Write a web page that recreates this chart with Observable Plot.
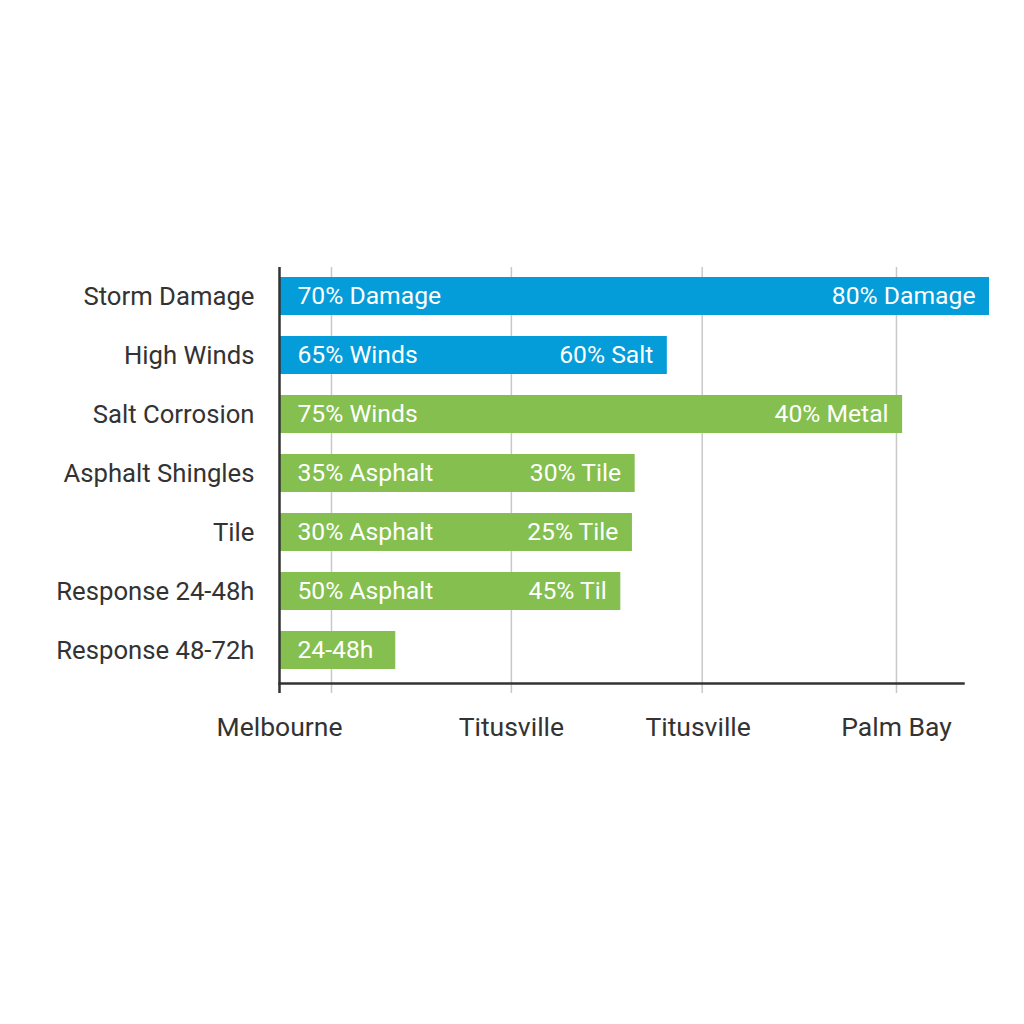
<!DOCTYPE html>
<html><head><meta charset="utf-8">
<script src="https://cdn.jsdelivr.net/npm/d3@7"></script>
<script src="https://cdn.jsdelivr.net/npm/@observablehq/plot@0.6"></script>
<style>body{margin:0;background:#fff;font-family:Roboto, sans-serif}</style>
</head><body><div id="chart"></div><script>
const categories = ["Storm Damage","High Winds","Salt Corrosion","Asphalt Shingles","Tile","Response 24-48h","Response 48-72h"];
const groups = ["Weather","Weather","Roof","Roof","Roof","Roof","Roof"];
const values = [103.8, 56.7, 91.1, 52.0, 51.6, 49.9, 17.0];
const leftLabels = ["70% Damage","65% Winds","75% Winds","35% Asphalt","30% Asphalt","50% Asphalt","24-48h"];
const rightLabels = ["80% Damage","60% Salt","40% Metal","30% Tile","25% Tile","45% Til",""];
const gridValues = [7.6, 33.9, 61.8, 90.2];
const tickValues = [0, 33.9, 61.2, 90.2];
const tickLabels = ["Melbourne","Titusville","Titusville","Palm Bay"];

const data = categories.map((c, i) => ({cat: c, group: groups[i], v: values[i], left: leftLabels[i], right: rightLabels[i]}));
const ticks = tickValues.map((t, i) => ({x: t, label: tickLabels[i]}));

const chart = Plot.plot({
  width: 1024, height: 1024,
  marginLeft: 279, marginRight: 61, marginTop: 267, marginBottom: 341,
  style: {fontFamily: "Roboto, sans-serif", background: "#fff", overflow: "visible"},
  x: {domain: [0, 100], axis: null},
  y: {domain: categories, paddingInner: 0.356, paddingOuter: 0.2, align: 0.4, label: null},
  color: {domain: ["Weather","Roof"], range: ["#049cd9","#84bf4f"]},
  marks: [
    Plot.ruleX(gridValues, {x: d => d, stroke: "#c8c8c8", strokeWidth: 1.5, strokeOpacity: 1, insetBottom: -10}),
    Plot.barX(data, {y: "cat", x1: 0, x2: "v", fill: "group"}),
    Plot.text(data, {y: "cat", x: 0, text: "left", textAnchor: "start", dx: 18, fill: "white", fontSize: 24.7}),
    Plot.text(data, {y: "cat", x: "v", text: "right", textAnchor: "end", dx: -14, fill: "white", fontSize: 24.7}),
    Plot.axisY({tickSize: 0, tickPadding: 25, fontSize: 25.7, fill: "#333", label: null}),
    Plot.frame({anchor: "bottom", stroke: "#333", strokeWidth: 2.5}),
    Plot.ruleX([0], {stroke: "#333", strokeWidth: 2.5, insetBottom: -10}),
    Plot.text(ticks, {x: "x", text: "label", frameAnchor: "bottom", lineAnchor: "middle", dy: 44, fontSize: 26.5, fill: "#333"})
  ]
});
chart.style.display = "block";
document.getElementById("chart").append(chart);
</script></body></html>
